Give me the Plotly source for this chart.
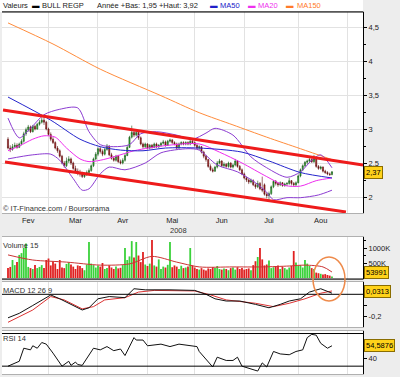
import plotly.graph_objects as go
import pandas as pd

# ---------------- data ----------------
dates = [d.strftime("%Y-%m-%d") for d in pd.bdate_range("2008-01-21", "2008-08-08")]

opens = [2.85, 2.72, 2.70, 2.74, 2.76, 2.73, 2.78, 2.82, 2.93, 2.99,
         3.03, 2.96, 3.04, 3.00, 3.07, 3.10, 3.13, 3.10, 3.00, 2.92,
         2.85, 2.80, 2.72, 2.68, 2.60, 2.50, 2.46, 2.53, 2.56, 2.50,
         2.42, 2.38, 2.36, 2.34, 2.30, 2.33, 2.36, 2.39, 2.46, 2.56,
         2.63, 2.71, 2.67, 2.63, 2.70, 2.75, 2.62, 2.57, 2.54, 2.60,
         2.52, 2.50, 2.54, 2.61, 2.73, 2.88, 2.95, 2.91, 2.95, 2.87,
         2.78, 2.74, 2.78, 2.72, 2.76, 2.73, 2.78, 2.74, 2.76, 2.79,
         2.81, 2.76, 2.82, 2.84, 2.80, 2.78, 2.72, 2.78, 2.80, 2.78,
         2.80, 2.78, 2.82, 2.80, 2.76, 2.72, 2.74, 2.66, 2.60, 2.55,
         2.45, 2.40, 2.38, 2.44, 2.50, 2.53, 2.46, 2.48, 2.45, 2.50,
         2.44, 2.47, 2.53, 2.45, 2.40, 2.34, 2.28, 2.25, 2.22, 2.24,
         2.18, 2.15, 2.20, 2.12, 2.18, 2.04, 2.02, 2.05, 2.15, 2.23,
         2.20, 2.18, 2.21, 2.17, 2.19, 2.20, 2.24, 2.20, 2.18, 2.21,
         2.31, 2.40, 2.46, 2.51, 2.53, 2.55, 2.52, 2.56, 2.45, 2.42,
         2.44, 2.38, 2.36, 2.34, 2.33]
closes = [2.72, 2.70, 2.74, 2.76, 2.73, 2.78, 2.82, 2.93, 2.99, 3.03,
          2.96, 3.04, 3.00, 3.07, 3.10, 3.13, 3.10, 3.00, 2.92, 2.85,
          2.80, 2.72, 2.68, 2.60, 2.50, 2.46, 2.53, 2.56, 2.50, 2.42,
          2.38, 2.36, 2.34, 2.30, 2.33, 2.36, 2.39, 2.46, 2.56, 2.63,
          2.71, 2.67, 2.63, 2.70, 2.75, 2.62, 2.57, 2.54, 2.60, 2.52,
          2.50, 2.54, 2.61, 2.73, 2.88, 2.95, 2.91, 2.95, 2.87, 2.78,
          2.74, 2.78, 2.72, 2.76, 2.73, 2.78, 2.74, 2.76, 2.79, 2.81,
          2.76, 2.82, 2.84, 2.80, 2.78, 2.72, 2.78, 2.80, 2.78, 2.80,
          2.78, 2.82, 2.80, 2.76, 2.72, 2.74, 2.66, 2.60, 2.55, 2.45,
          2.40, 2.38, 2.44, 2.50, 2.53, 2.46, 2.48, 2.45, 2.50, 2.44,
          2.47, 2.53, 2.45, 2.40, 2.34, 2.28, 2.25, 2.22, 2.24, 2.18,
          2.15, 2.20, 2.12, 2.10, 2.04, 2.02, 2.05, 2.15, 2.23, 2.20,
          2.18, 2.21, 2.17, 2.19, 2.20, 2.24, 2.20, 2.18, 2.21, 2.31,
          2.40, 2.46, 2.51, 2.53, 2.55, 2.52, 2.56, 2.45, 2.42, 2.44,
          2.38, 2.36, 2.34, 2.33, 2.37]
highs = [2.88, 2.76, 2.78, 2.80, 2.79, 2.80, 2.85, 2.96, 3.02, 3.06,
         3.05, 3.06, 3.06, 3.09, 3.13, 3.17, 3.18, 3.12, 3.02, 2.95,
         2.88, 2.82, 2.75, 2.70, 2.62, 2.53, 2.58, 2.60, 2.58, 2.52,
         2.46, 2.42, 2.40, 2.37, 2.36, 2.39, 2.42, 2.48, 2.58, 2.66,
         2.73, 2.74, 2.70, 2.72, 2.78, 2.76, 2.65, 2.60, 2.62, 2.62,
         2.55, 2.57, 2.64, 2.76, 2.90, 3.05, 2.98, 2.98, 2.96, 2.89,
         2.80, 2.80, 2.79, 2.78, 2.78, 2.80, 2.80, 2.78, 2.81, 2.84,
         2.83, 2.84, 2.86, 2.85, 2.82, 2.80, 2.80, 2.82, 2.82, 2.82,
         2.82, 2.84, 2.84, 2.82, 2.78, 2.76, 2.75, 2.68, 2.62, 2.56,
         2.48, 2.43, 2.46, 2.53, 2.56, 2.54, 2.51, 2.50, 2.52, 2.51,
         2.49, 2.56, 2.54, 2.47, 2.42, 2.36, 2.30, 2.27, 2.27, 2.26,
         2.20, 2.24, 2.22, 2.30, 2.20, 2.07, 2.08, 2.17, 2.25, 2.25,
         2.22, 2.23, 2.22, 2.21, 2.22, 2.28, 2.25, 2.22, 2.23, 2.33,
         2.42, 2.48, 2.53, 2.55, 2.58, 2.57, 2.62, 2.57, 2.47, 2.46,
         2.45, 2.40, 2.38, 2.36, 2.38]
lows = [2.70, 2.66, 2.68, 2.72, 2.71, 2.72, 2.76, 2.80, 2.90, 2.96,
        2.94, 2.95, 2.98, 2.99, 3.05, 3.08, 3.06, 2.98, 2.90, 2.82,
        2.78, 2.70, 2.65, 2.58, 2.48, 2.43, 2.44, 2.50, 2.47, 2.40,
        2.36, 2.32, 2.30, 2.28, 2.28, 2.31, 2.34, 2.37, 2.44, 2.54,
        2.60, 2.64, 2.60, 2.61, 2.68, 2.60, 2.55, 2.52, 2.52, 2.50,
        2.48, 2.48, 2.52, 2.60, 2.72, 2.86, 2.88, 2.89, 2.84, 2.76,
        2.71, 2.72, 2.70, 2.70, 2.71, 2.72, 2.72, 2.72, 2.74, 2.77,
        2.74, 2.75, 2.80, 2.78, 2.76, 2.70, 2.71, 2.76, 2.76, 2.76,
        2.76, 2.76, 2.78, 2.74, 2.70, 2.69, 2.64, 2.57, 2.52, 2.43,
        2.38, 2.36, 2.37, 2.42, 2.48, 2.44, 2.44, 2.43, 2.43, 2.42,
        2.42, 2.45, 2.43, 2.38, 2.32, 2.26, 2.22, 2.19, 2.20, 2.16,
        2.12, 2.13, 2.10, 2.07, 2.02, 1.98, 1.95, 2.03, 2.13, 2.17,
        2.15, 2.16, 2.15, 2.15, 2.16, 2.18, 2.17, 2.16, 2.16, 2.20,
        2.29, 2.38, 2.44, 2.48, 2.50, 2.50, 2.50, 2.43, 2.40, 2.40,
        2.36, 2.34, 2.32, 2.31, 2.32]

volumes_k = [330, 370, 600, 430, 530, 770, 830, 1000, 1150, 370,
             330, 300, 430, 330, 370, 430, 330, 600, 650, 420,
             550, 480, 300, 600, 350, 330, 470, 520, 450, 380,
             300, 420, 400, 330, 260, 450, 1200, 480, 430, 350,
             420, 380, 500, 300, 330, 420, 350, 300, 380, 320,
             340, 430, 1000, 600, 720, 1230, 680, 1200, 750, 530,
             870, 450, 400, 480, 1270, 420, 380, 620, 300, 380,
             350, 440, 1200, 360, 420, 380, 300, 410, 330, 350,
             380, 1000, 420, 350, 300, 280, 330, 280, 250, 320,
             300, 360, 330, 400, 300, 280, 320, 300, 260, 330,
             350, 280, 360, 300, 330, 280, 300, 320, 260, 430,
             560, 700, 1000, 620, 420, 450, 580, 330, 360, 400,
             420, 300, 380, 330, 280, 350, 400, 900, 520, 420,
             430, 350, 600, 480, 400, 330, 300, 180, 160, 140,
             120, 130, 100, 80, 54]

# indicator lines (at these trading-day positions)
ma150_idx = [0, 20, 41, 68, 85, 100, 115, 130, 144]
ma150_val = [4.56, 4.25, 3.88, 3.49, 3.24, 3.06, 2.88, 2.71, 2.55]
ma50_idx = [0, 19, 32, 41, 50, 60, 70, 85, 104, 116, 130, 144]
ma50_val = [3.47, 3.13, 2.85, 2.74, 2.69, 2.68, 2.72, 2.72, 2.66, 2.53, 2.36, 2.28]
ma20_idx = [0, 5, 11, 16, 21, 26, 32, 36, 41, 48, 56, 71, 85, 94, 104, 115, 123, 130, 137, 144]
ma20_val = [2.68, 2.75, 2.85, 2.90, 2.88, 2.72, 2.56, 2.52, 2.54, 2.60, 2.68, 2.76, 2.78,
            2.66, 2.50, 2.30, 2.17, 2.16, 2.24, 2.28]
bb_up_idx = [0, 5, 10, 16, 23, 31, 36, 41, 47, 54, 59, 66, 75, 82, 88, 92, 100, 108, 115,
             124, 130, 135, 139, 144]
bb_up_val = [3.16, 2.87, 3.01, 3.21, 3.29, 3.31, 2.96, 2.77, 2.74, 2.77, 2.93, 2.96, 2.91,
             2.85, 2.94, 3.01, 2.91, 2.59, 2.43, 2.29, 2.37, 2.54, 2.62, 2.43]
bb_lo_idx = [0, 11, 19, 23, 29, 33, 36, 41, 45, 52, 61, 68, 80, 85, 93, 102, 110, 115, 118,
             124, 130, 138, 144]
bb_lo_val = [2.56, 2.62, 2.63, 2.54, 2.27, 2.10, 2.12, 2.34, 2.44, 2.40, 2.50, 2.65, 2.71,
             2.69, 2.47, 2.37, 2.21, 2.07, 1.96, 1.99, 1.99, 2.03, 2.10]

vol_ma_idx = [0, 11, 26, 41, 54, 64, 75, 85, 100, 113, 125, 132, 140, 144]
vol_ma_val = [770, 600, 530, 430, 470, 720, 530, 370, 370, 370, 400, 430, 370, 200]

macd_idx = [0, 5, 11, 19, 23, 28, 33, 36, 40, 45, 52, 56, 61, 72, 83, 88, 92, 97, 103,
            110, 116, 121, 125, 130, 134, 139, 144]
macd_val = [-0.21, -0.17, -0.10, -0.006, -0.04, -0.09, -0.14, -0.12, -0.04, -0.02, -0.03,
            0.05, 0.04, 0.04, 0.035, 0.0, -0.04, -0.06, -0.06, -0.09, -0.12, -0.09, -0.06,
            -0.04, 0.02, 0.05, 0.01]
signal_idx = [0, 11, 19, 25, 33, 38, 43, 52, 58, 65, 83, 90, 97, 110, 118, 125, 132, 139, 144]
signal_val = [-0.25, -0.14, -0.02, -0.05, -0.13, -0.11, -0.05, -0.03, 0.02, 0.035, 0.03,
              -0.005, -0.05, -0.08, -0.11, -0.08, -0.04, 0.01, 0.03]

rsi_idx = [0, 5, 7, 10, 11, 13, 15, 17, 20, 24, 27, 28, 30, 31, 33, 35, 38, 41, 44, 47, 50,
           52, 56, 57, 60, 62, 68, 72, 76, 84, 85, 91, 93, 97, 100, 102, 104, 111, 113, 115,
           118, 121, 125, 128, 131, 133, 135, 137, 139, 142, 144]
rsi_val = [30, 36, 52, 50, 55, 52, 59, 57, 46, 30, 36, 31, 35, 32, 31, 40, 52, 50, 54, 49, 51,
           43, 65, 62, 62, 55, 57, 54, 57, 54, 48, 29, 41, 37, 37, 41, 30, 24, 34, 29,
           48, 45, 44, 48, 50, 65, 69, 68, 58, 52, 55]

# hand-drawn trend channel (date, price)
chan_up_x = ["2008-01-16 19:00", "2008-08-27 19:00"]
chan_up_y = [3.28, 2.47]
chan_lo_x = ["2008-01-17 16:00", "2008-08-18 05:00"]
chan_lo_y = [2.515, 1.78]

month_ticks = ["2008-02-01", "2008-03-03", "2008-04-01", "2008-05-01", "2008-06-02",
               "2008-07-01", "2008-08-01"]
month_labels = ["Fev", "Mar", "Avr", "Mai", "Jun", "Jul", "Aou"]
grid_dates = ["2008-02-14", "2008-03-17", "2008-04-16", "2008-05-15", "2008-06-16",
              "2008-07-18", "2008-08-19"]
x_range = ["2008-01-16 08:00", "2008-08-27 19:00"]

price_ticks = [2, 2.5, 3, 3.5, 4, 4.5]
price_labels = ["2", "2,5", "3", "3,5", "4", "4,5"]
price_minor = [2.25, 2.75, 3.25, 3.75, 4.25, 4.75]

# ---------------- figure ----------------
FONT = "Liberation Sans, Arial, sans-serif"
W, H = 400, 377
L, R = 2, 37


def px_x(px):
    return (px - L) / (W - L - R)


def px_y(py):
    return 1 - py / H


def pick(idx):
    return [dates[i] for i in idx]


fig = go.Figure()


def line(xs, ys, color, ax, width=1, shape="spline"):
    fig.add_trace(go.Scatter(x=xs, y=ys, mode="lines",
                             line=dict(color=color, width=width, shape=shape,
                                       smoothing=0.8 if shape == "spline" else None),
                             xaxis=ax[0], yaxis=ax[1], hoverinfo="skip", showlegend=False))


main = ("x", "y")
line(pick(ma150_idx), ma150_val, "#ff8c3c", main)
line(pick(bb_up_idx), bb_up_val, "#8c3cd2", main)
line(pick(bb_lo_idx), bb_lo_val, "#8c3cd2", main)
line(pick(ma20_idx), ma20_val, "#ee2cee", main)
line(pick(ma50_idx), ma50_val, "#2525cc", main)

fig.add_trace(go.Candlestick(
    x=dates, open=opens, high=highs, low=lows, close=closes,
    increasing=dict(fillcolor="#2cb82c", line=dict(color="#1b551b", width=0.6)),
    decreasing=dict(fillcolor="#b31d1d", line=dict(color="#5a1010", width=0.6)),
    whiskerwidth=0, xaxis="x", yaxis="y", showlegend=False, hoverinfo="skip"))

line(chan_up_x, chan_up_y, "#ee1b1b", main, width=3, shape="linear")
line(chan_lo_x, chan_lo_y, "#ee1b1b", main, width=3, shape="linear")

# volume
up = [c >= o for o, c in zip(opens, closes)]
fig.add_trace(go.Bar(x=dates, y=volumes_k,
                     marker=dict(color=["#3ad13a" if u else "#e02020" for u in up], line=dict(width=0)),
                     xaxis="x2", yaxis="y2", showlegend=False, hoverinfo="skip"))
line(pick(vol_ma_idx), vol_ma_val, "#cc3333", ("x2", "y2"), width=1)

# MACD
line(pick(signal_idx), signal_val, "#dd3333", ("x3", "y3"), width=1, shape="linear")
line(pick(macd_idx), macd_val, "#111111", ("x3", "y3"), width=1, shape="linear")

# RSI
line(pick(rsi_idx), rsi_val, "#111111", ("x4", "y4"), width=1, shape="linear")

tickfont = dict(family=FONT, size=7.5, color="#222222")

xcommon = dict(type="date", range=x_range, rangebreaks=[dict(bounds=["sat", "mon"])],
               showgrid=False, zeroline=False, fixedrange=True,
               minor=dict(tickmode="array", tickvals=grid_dates, showgrid=True,
                          gridcolor="#e2e2e2", gridwidth=1, ticks=""),
               showline=True, linecolor="#b0b0b0", mirror=True, rangeslider=dict(visible=False))

layout = dict(
    width=W, height=H, margin=dict(l=L, r=R, t=0, b=0),
    paper_bgcolor="#ededed", plot_bgcolor="#ffffff", showlegend=False,
    font=dict(family=FONT, size=7.5, color="#222222"),
    xaxis=dict(xcommon, anchor="y", tickmode="array", tickvals=month_ticks, ticktext=month_labels,
               ticks="", tickfont=tickfont),
    xaxis2=dict(xcommon, anchor="y2", matches="x", showticklabels=False),
    xaxis3=dict(xcommon, anchor="y3", matches="x", showticklabels=False),
    xaxis4=dict(xcommon, anchor="y4", matches="x", showticklabels=False),
)

ycommon = dict(side="right", showline=True, linecolor="#000000", ticks="outside", ticklen=3,
               tickcolor="#000000", zeroline=False, fixedrange=True, tickfont=tickfont,
               tickmode="array")
layout["yaxis"] = dict(ycommon, anchor="x", domain=[px_y(213), px_y(12)], range=[1.7647, 4.7206],
                       tickvals=price_ticks, ticktext=price_labels, showgrid=True, gridcolor="#e2e2e2",
                       minor=dict(tickmode="array", tickvals=price_minor, ticks="outside", ticklen=2,
                                  tickcolor="#000000"))
layout["yaxis2"] = dict(ycommon, anchor="x2", domain=[px_y(279), px_y(237)], range=[-33, 1367],
                        tickvals=[500, 1000], ticktext=["500K", "1000K"], showgrid=False,
                        minor=dict(tickmode="array", tickvals=[250, 750, 1250], ticks="outside",
                                   ticklen=2, tickcolor="#000000"))
layout["yaxis3"] = dict(ycommon, anchor="x3", domain=[px_y(327), px_y(282)], range=[-0.292, 0.110],
                        tickvals=[-0.2], ticktext=["-0,2"], showgrid=False,
                        minor=dict(tickmode="array", tickvals=[0, -0.1], ticks="outside",
                                   ticklen=3, tickcolor="#000000"))
layout["yaxis4"] = dict(ycommon, anchor="x4", domain=[px_y(374), px_y(331)], range=[20.4, 73.1],
                        tickvals=[40], ticktext=["40"], showgrid=False,
                        minor=dict(tickmode="array", tickvals=[60], ticks="outside",
                                   ticklen=3, tickcolor="#000000"))
fig.update_layout(layout)

shapes = [
    # white header strip
    dict(type="rect", xref="paper", yref="paper", x0=0 - L / (W - L - R), x1=1, y0=px_y(12), y1=1,
         fillcolor="#ffffff", line=dict(width=0), layer="below"),
    # black top border of main panel
    dict(type="line", xref="paper", yref="paper", x0=0, x1=1, y0=px_y(12), y1=px_y(12),
         line=dict(color="#000000", width=1)),
    # volume bottom
    dict(type="line", xref="paper", yref="paper", x0=0, x1=1, y0=px_y(279), y1=px_y(279),
         line=dict(color="#000000", width=1)),
    # MACD zero line
    dict(type="line", xref="paper", yref="y3", x0=0, x1=1, y0=0, y1=0,
         line=dict(color="#000000", width=1)),
    # RSI 30 / 70
    dict(type="line", xref="paper", yref="y4", x0=0, x1=1, y0=30, y1=30,
         line=dict(color="#000000", width=1)),
    dict(type="line", xref="paper", yref="y4", x0=0, x1=1, y0=70, y1=70,
         line=dict(color="#000000", width=1)),
    # orange circle
    dict(type="circle", xref="paper", yref="paper", x0=px_x(313), x1=px_x(345),
         y0=px_y(301), y1=px_y(257), line=dict(color="#ee8a4a", width=1.5)),
]
fig.update_layout(shapes=shapes)

ann = []


def text(s, x, y, color="#222222", anchor="left", size=7.5):
    ann.append(dict(text=s, x=px_x(x), y=px_y(y), xref="paper", yref="paper", showarrow=False,
                    xanchor=anchor, yanchor="middle", font=dict(family=FONT, size=size, color=color),
                    borderpad=0))


text("Valeurs", 2, 5.5)
text("▬", 31, 5.5, "#000000")
text("BULL REGP", 41, 5.5)
text("Année +Bas: 1,95 +Haut: 3,92", 96, 5.5)
text("▬", 209, 5.5, "#2020c8")
text("MA50", 219, 5.5, "#2020c8")
text("▬", 247, 5.5, "#ee30ee")
text("MA20", 257, 5.5, "#ee30ee")
text("▬", 285, 5.5, "#ff7a2a")
text("MA150", 296, 5.5, "#ff7a2a")
text("© IT-Finance.com / Boursorama", 2, 208, "#333333")
text("2008", 178, 230, "#333333", anchor="center")
text("Volume 15", 2, 245, "#333333")
text("MACD 12 26 9", 2, 290, "#333333")
text("RSI 14", 2, 338, "#333333")


def tag(s, y):
    ann.append(dict(text=s, x=px_x(364), y=px_y(y), xref="paper", yref="paper", showarrow=False,
                    xanchor="left", yanchor="middle", font=dict(family=FONT, size=7.5, color="#000000"),
                    bgcolor="#ffd21a", bordercolor="#8a6d00", borderwidth=1, borderpad=1))


tag("2,37", 172)
tag("53991", 272)
tag("0,0313", 291.5)
tag("54,5876", 345)

fig.update_layout(annotations=ann)

fig.write_html("out.html", config={"displayModeBar": False, "staticPlot": True},
               post_script="document.body.style.margin='0';document.body.style.overflow='hidden';")
